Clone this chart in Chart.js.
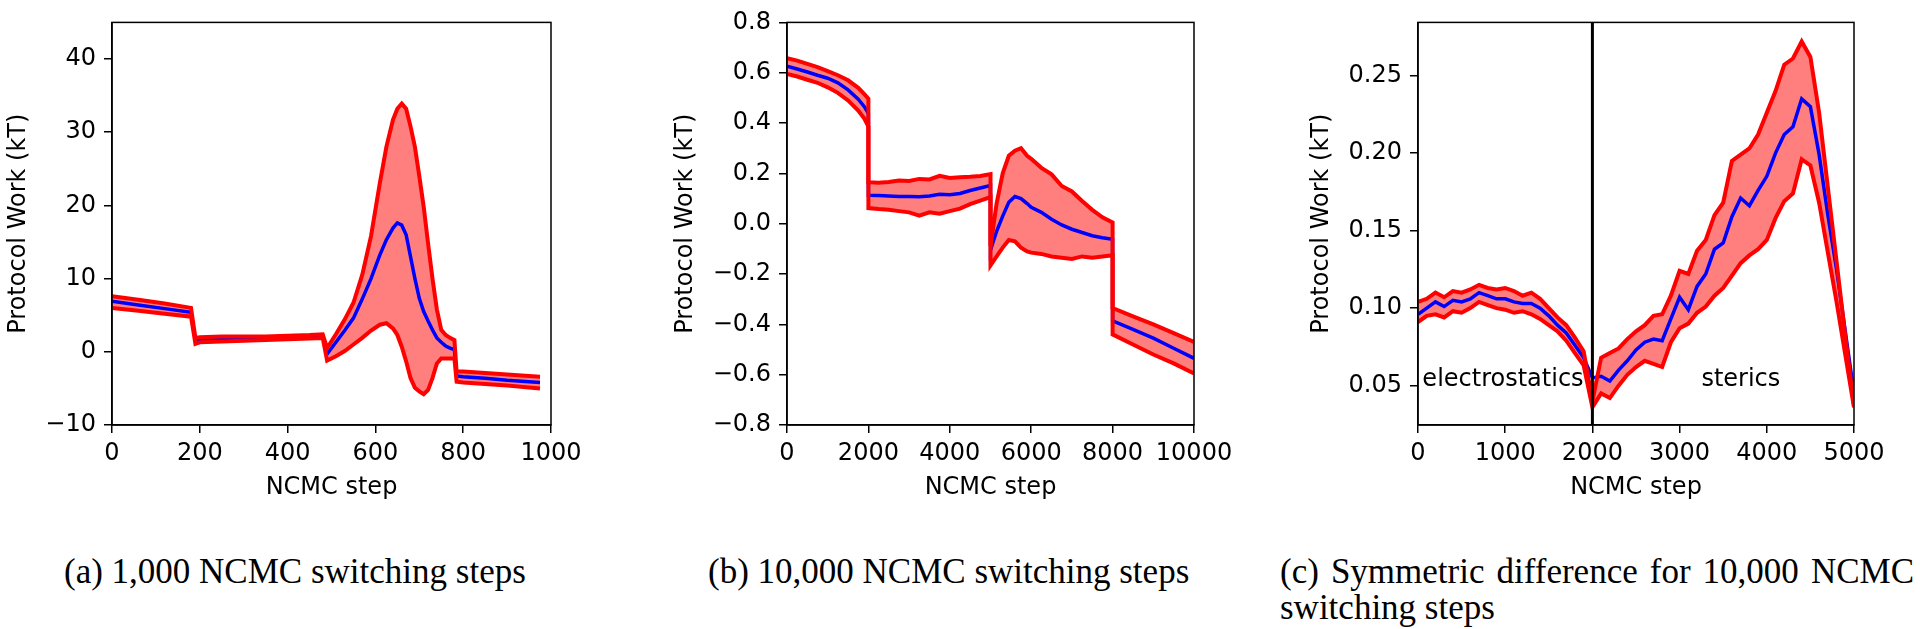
<!DOCTYPE html>
<html>
<head>
<meta charset="utf-8">
<script src="https://cdn.jsdelivr.net/npm/chart.js@4.4.1/dist/chart.umd.min.js"></script>
<style>
  body { margin: 0; background: #fff; width: 1920px; height: 629px; overflow: hidden; position: relative; }
  .panel { position: absolute; top: 0; }
  .cap { position: absolute; font-family: "Liberation Serif", serif; font-size: 35px; line-height: 36px; color: #000; white-space: nowrap; }
</style>
</head>
<body>
<div class="panel" style="left:0px"><canvas id="chartA" width="600" height="502"></canvas></div>
<div class="panel" style="left:640px"><canvas id="chartB" width="600" height="502"></canvas></div>
<div class="panel" style="left:1280px"><canvas id="chartC" width="640" height="502"></canvas></div>

<div class="cap" style="left:64px; top:554px">(a) 1,000 NCMC switching steps</div>
<div class="cap" style="left:708px; top:554px">(b) 10,000 NCMC switching steps</div>
<div class="cap" style="left:1280px; top:554px; width:634px; white-space:normal; text-align:justify; text-align-last:justify">(c) Symmetric difference for 10,000 NCMC</div>
<div class="cap" style="left:1280px; top:590px">switching steps</div>

<script>
// ---- panel (a): 1,000 NCMC switching steps ----
const xA = [0, 60, 120, 180, 190, 200, 250, 300, 350, 400, 450, 480, 490, 510, 530, 550, 570, 590, 610, 625,
            640, 650, 660, 670, 680, 690, 700, 710, 720, 730, 740, 750, 760, 770, 780, 785, 800, 850, 900, 975];
const upperA = [7.6, 7.1, 6.6, 6.0, 1.9, 2.0, 2.1, 2.1, 2.1, 2.2, 2.3, 2.4, 0.5, 2.4, 4.4, 6.7, 10.5, 15.8, 23.0, 28.0,
                31.7, 33.2, 33.9, 33.2, 30.8, 28.0, 24.0, 19.8, 14.8, 10.0, 5.8, 3.0, 2.3, 1.9, 1.6, -2.7, -2.7, -2.9, -3.1, -3.4];
const lowerA = [6.0, 5.6, 5.2, 4.8, 1.1, 1.3, 1.4, 1.5, 1.6, 1.7, 1.8, 1.9, -1.2, -0.6, 0.1, 1.0, 1.9, 2.9, 3.7, 3.9,
                3.2, 2.3, 0.7, -1.3, -3.6, -4.9, -5.4, -5.8, -5.2, -3.6, -1.6, -0.9, -0.9, -0.9, -0.9, -4.1, -4.2, -4.4, -4.6, -5.0];
const meanA = [6.9, 6.4, 5.9, 5.4, 1.5, 1.6, 1.7, 1.8, 1.9, 2.0, 2.1, 2.2, -0.3, 1.3, 2.9, 4.6, 7.2, 10.0, 13.2, 15.3,
               16.9, 17.6, 17.3, 16.0, 13.0, 10.0, 7.3, 5.5, 4.2, 3.0, 1.9, 1.3, 0.8, 0.5, 0.3, -3.3, -3.4, -3.6, -3.9, -4.2];
const xTicksA = [0, 200, 400, 600, 800, 1000];
const yTicksA = [-10, 0, 10, 20, 30, 40];
const xRangeA = [0, 1000];
const yRangeA = [-10, 45];

// ---- panel (b): 10,000 NCMC switching steps ----
const xB = [0, 250, 500, 750, 1000, 1250, 1500, 1750, 1900, 2000,
            2000, 2250, 2500, 2750, 3000, 3250, 3500, 3750, 4000, 4250, 4500, 4750, 5000,
            5000, 5150, 5300, 5450, 5600, 5750, 5900, 6000, 6250, 6500, 6750, 7000, 7250, 7500, 7750, 8000,
            8000, 8500, 9000, 9500, 10000];
const upperB = [0.658, 0.648, 0.635, 0.622, 0.606, 0.590, 0.570, 0.540, 0.515, 0.497,
                0.165, 0.163, 0.166, 0.172, 0.170, 0.178, 0.176, 0.190, 0.182, 0.185, 0.187, 0.190, 0.197,
                -0.090, 0.080, 0.200, 0.270, 0.290, 0.300, 0.270, 0.258, 0.222, 0.196, 0.150, 0.128, 0.090, 0.055, 0.025, 0.005,
                -0.335, -0.368, -0.400, -0.435, -0.470];
const lowerB = [0.595, 0.585, 0.572, 0.560, 0.542, 0.520, 0.490, 0.450, 0.418, 0.386,
                0.062, 0.058, 0.055, 0.050, 0.045, 0.032, 0.045, 0.040, 0.050, 0.060, 0.078, 0.092, 0.106,
                -0.166, -0.130, -0.095, -0.065, -0.070, -0.095, -0.110, -0.115, -0.120, -0.130, -0.135, -0.140, -0.130, -0.135, -0.130, -0.125,
                -0.440, -0.480, -0.520, -0.555, -0.595];
const meanB = [0.626, 0.615, 0.603, 0.590, 0.578, 0.560, 0.532, 0.495, 0.465, 0.438,
               0.113, 0.112, 0.110, 0.108, 0.108, 0.107, 0.110, 0.117, 0.115, 0.120, 0.132, 0.142, 0.152,
               -0.105, -0.030, 0.030, 0.085, 0.108, 0.100, 0.080, 0.065, 0.045, 0.018, -0.005, -0.022, -0.035, -0.048, -0.056, -0.062,
               -0.386, -0.420, -0.455, -0.495, -0.535];
const xTicksB = [0, 2000, 4000, 6000, 8000, 10000];
const yTicksB = [-0.8, -0.6, -0.4, -0.2, 0.0, 0.2, 0.4, 0.6, 0.8];
const xRangeB = [0, 10000];
const yRangeB = [-0.8, 0.8];

// ---- panel (c): symmetric difference ----
const xC = [0, 100, 200, 300, 400, 500, 600, 700, 800, 900, 1000, 1100, 1200, 1300, 1400, 1500, 1600, 1700, 1800, 1900,
            2000, 2100, 2200, 2300, 2400, 2500, 2600, 2700, 2800, 2900, 3000, 3100, 3200, 3300, 3400, 3500, 3600, 3700, 3800, 3900,
            4000, 4100, 4200, 4300, 4400, 4500, 4600, 4700, 4800, 4900, 5000];
const upperC = [0.104, 0.106, 0.110, 0.107, 0.111, 0.110, 0.112, 0.115, 0.113, 0.112, 0.113, 0.111, 0.108, 0.110, 0.106, 0.100, 0.094, 0.089, 0.081, 0.072,
                0.040, 0.068, 0.071, 0.074, 0.080, 0.085, 0.089, 0.095, 0.096, 0.108, 0.124, 0.122, 0.137, 0.144, 0.160, 0.168, 0.195, 0.199, 0.203, 0.212,
                0.226, 0.240, 0.257, 0.261, 0.272, 0.262, 0.226, 0.178, 0.130, 0.082, 0.037];
const lowerC = [0.091, 0.095, 0.096, 0.094, 0.098, 0.097, 0.100, 0.104, 0.102, 0.100, 0.099, 0.097, 0.098, 0.096, 0.093, 0.089, 0.085, 0.079, 0.071, 0.063,
                0.036, 0.045, 0.042, 0.050, 0.057, 0.062, 0.066, 0.064, 0.062, 0.078, 0.087, 0.090, 0.097, 0.101, 0.108, 0.113, 0.121, 0.129, 0.134, 0.138,
                0.144, 0.158, 0.169, 0.174, 0.196, 0.192, 0.168, 0.136, 0.104, 0.070, 0.036];
const meanC = [0.096, 0.100, 0.104, 0.101, 0.105, 0.104, 0.106, 0.110, 0.108, 0.106, 0.106, 0.104, 0.103, 0.103, 0.100, 0.095, 0.089, 0.084, 0.076, 0.068,
               0.055, 0.056, 0.053, 0.060, 0.066, 0.073, 0.078, 0.080, 0.079, 0.093, 0.107, 0.099, 0.114, 0.122, 0.138, 0.142, 0.159, 0.171, 0.166, 0.176,
               0.185, 0.200, 0.212, 0.217, 0.235, 0.230, 0.199, 0.160, 0.125, 0.085, 0.045];
const xTicksC = [0, 1000, 2000, 3000, 4000, 5000];
const yTicksC = [0.05, 0.10, 0.15, 0.20, 0.25];
const xRangeC = [0, 5000];
const yRangeC = [0.0246, 0.2843];
const splitC = 2000;
const noteText = ['electrostatics', 'sterics'];
const noteX = [50, 3250];
const noteY = [0.05, 0.05];

const FONT = { family: 'DejaVu Sans', size: 24 };
const minus = s => String(s).replace('-', '\u2212');

function pts(xs, ys) {
  return xs.map((x, i) => ({ x: x, y: ys[i] }));
}

// matplotlib style box around the axes
const frame = {
  id: 'frame',
  afterDraw(chart) {
    const a = chart.chartArea, ctx = chart.ctx;
    ctx.save();
    ctx.strokeStyle = '#000';
    ctx.lineWidth = 1.5;
    ctx.strokeRect(a.left, a.top, a.right - a.left, a.bottom - a.top);
    ctx.restore();
  }
};

const notes = {
  id: 'notes',
  afterDatasetsDraw(chart, args, opts) {
    if (!opts.text) return;
    const ctx = chart.ctx;
    ctx.save();
    ctx.font = FONT.size + 'px "DejaVu Sans"';
    ctx.fillStyle = '#000';
    ctx.textAlign = 'left';
    ctx.textBaseline = 'alphabetic';
    opts.text.forEach((t, i) => {
      ctx.fillText(t, chart.scales.x.getPixelForValue(opts.x[i]), chart.scales.y.getPixelForValue(opts.y[i]));
    });
    ctx.restore();
  }
};

function makePanel(id, p) {
  const datasets = [
    { data: pts(p.x, p.upper), borderColor: '#ff0000', borderWidth: 4, backgroundColor: 'rgba(255,0,0,0.5)', fill: 1, order: 1 },
    { data: pts(p.x, p.lower), borderColor: '#ff0000', borderWidth: 4, fill: false, order: 1 },
    { data: pts(p.x, p.mean), borderColor: '#0000ff', borderWidth: 3.5, fill: false, order: 2 }
  ];
  if (p.split !== undefined) {
    datasets.push({ data: [{ x: p.split, y: p.yRange[0] }, { x: p.split, y: p.yRange[1] }],
                    borderColor: '#000', borderWidth: 3, fill: false, order: 0 });
  }
  const axisGrid = { drawOnChartArea: false, color: '#000', lineWidth: 1.5, tickLength: 8 };
  return new Chart(document.getElementById(id), {
    type: 'line',
    data: { datasets: datasets },
    options: {
      responsive: false,
      animation: false,
      layout: { padding: { left: 0, right: p.padRight, top: 16, bottom: 0 } },
      elements: { point: { radius: 0 }, line: { tension: 0 } },
      plugins: {
        legend: { display: false },
        tooltip: { enabled: false },
        filler: { drawTime: 'beforeDatasetsDraw' },
        notes: p.notes || {}
      },
      scales: {
        x: {
          type: 'linear', min: p.xRange[0], max: p.xRange[1],
          afterBuildTicks: s => { s.ticks = p.xTicks.map(v => ({ value: v })); },
          afterFit: s => { s.height = 77; },
          ticks: { font: FONT, color: '#000', padding: 6, maxRotation: 0, autoSkip: false, callback: v => minus(v) },
          grid: axisGrid,
          border: { color: '#000', width: 1.5 },
          title: { display: true, text: 'NCMC step', font: FONT, color: '#000', padding: { top: 0, bottom: 0 } }
        },
        y: {
          type: 'linear', min: p.yRange[0], max: p.yRange[1],
          afterBuildTicks: s => { s.ticks = p.yTicks.map(v => ({ value: v })); },
          afterFit: s => { s.width = p.yWidth; },
          ticks: { font: FONT, color: '#000', padding: 8, autoSkip: false, callback: v => minus(p.fmt(v)) },
          grid: axisGrid,
          border: { color: '#000', width: 1.5 },
          title: { display: true, text: 'Protocol Work (kT)', font: FONT, color: '#000', padding: { top: p.titlePad, bottom: 0 } }
        }
      }
    },
    plugins: [frame, notes]
  });
}

makePanel('chartA', { x: xA, upper: upperA, lower: lowerA, mean: meanA, xTicks: xTicksA, yTicks: yTicksA,
  xRange: xRangeA, yRange: yRangeA, yWidth: 112, padRight: 49, titlePad: 4, fmt: v => v.toFixed(0) });
makePanel('chartB', { x: xB, upper: upperB, lower: lowerB, mean: meanB, xTicks: xTicksB, yTicks: yTicksB,
  xRange: xRangeB, yRange: yRangeB, yWidth: 147, padRight: 46, titlePad: 31, fmt: v => v.toFixed(1) });
makePanel('chartC', { x: xC, upper: upperC, lower: lowerC, mean: meanC, xTicks: xTicksC, yTicks: yTicksC,
  xRange: xRangeC, yRange: yRangeC, yWidth: 138, padRight: 66, titlePad: 27, fmt: v => v.toFixed(2),
  split: splitC, notes: { text: noteText, x: noteX, y: noteY } });
</script>
</body>
</html>
